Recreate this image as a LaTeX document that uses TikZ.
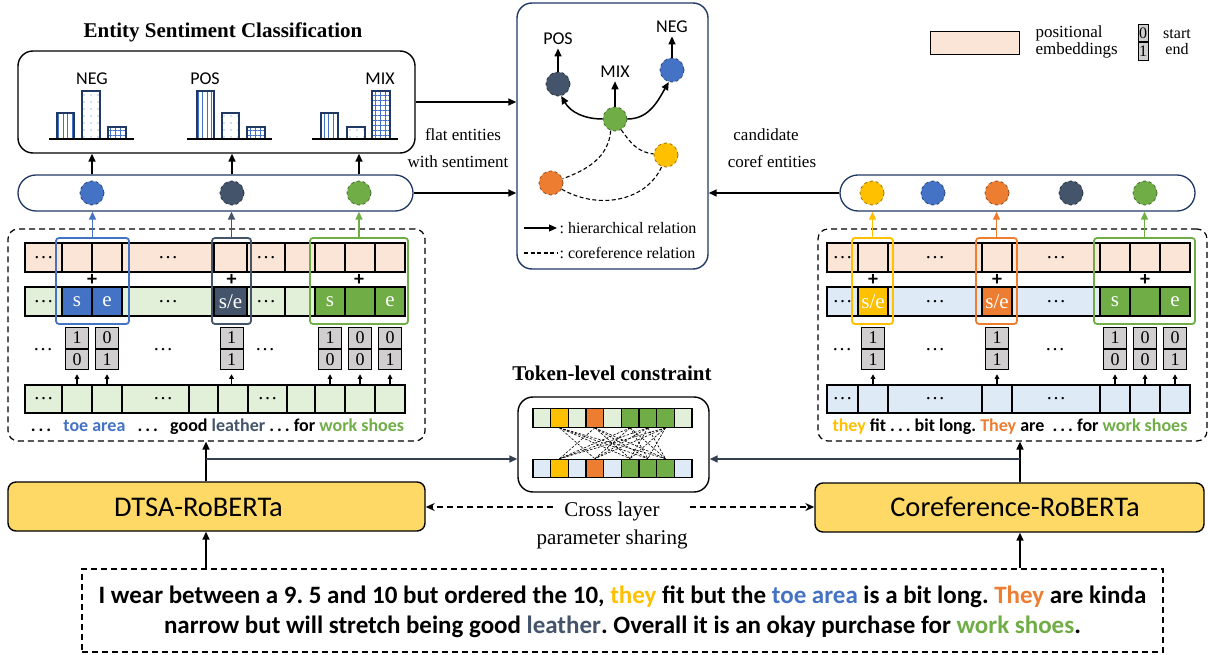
\documentclass[tikz,border=0pt]{standalone}
\usepackage{fontspec}
\setmainfont{Liberation Serif}
\newfontfamily\carlito{Carlito}
\usepackage{tikz}
\usetikzlibrary{arrows.meta,patterns.meta,positioning}
\definecolor{peach}{HTML}{FBE5D6}
\definecolor{lgreen}{HTML}{E2F0D9}
\definecolor{lblue}{HTML}{DEEBF7}
\definecolor{bitgray}{HTML}{D0CECE}
\definecolor{eblue}{HTML}{4472C4}
\definecolor{enavy}{HTML}{44546A}
\definecolor{egreen}{HTML}{70AD47}
\definecolor{eorange}{HTML}{ED7D31}
\definecolor{eyellow}{HTML}{FFC000}
\definecolor{model}{HTML}{FFD966}
\definecolor{frame}{HTML}{203864}
\definecolor{link}{HTML}{333F50}
\tikzset{
  box/.style={draw=black, line width=1.4pt, rounded corners=15pt},
  gbox/.style={draw=frame, line width=1.4pt, rounded corners=15pt},
  capsule/.style={draw=frame, line width=1.3pt, rounded corners=18pt},
  dbox/.style={draw=black, dash pattern=on 6pt off 4pt, line width=1.2pt, rounded corners=10pt},
  sbox/.style={draw=black, dash pattern=on 6pt off 4pt, line width=1.2pt},
  model/.style={draw=black, fill=model, line width=1.4pt, rounded corners=8pt},
  cell/.style={draw=black, line width=1.2pt},
  tcell/.style={draw=black, line width=1.1pt, minimum width=17.67pt, minimum height=18.5pt, inner sep=0pt},
  hl/.style={line width=1.8pt, rounded corners=3pt},
  bit/.style={draw=black, fill=bitgray, line width=1pt, minimum width=23pt, minimum height=20.5pt, inner sep=0pt, font=\fontsize{18}{18}\selectfont},
  bitleg/.style={draw=black, fill=bitgray, line width=1pt, minimum width=10pt, minimum height=17.5pt, inner sep=0pt, font=\fontsize{16}{16}\selectfont},
  ent/.style={circle, fill=#1, draw=#1!60!black, dashed, line width=0.8pt, minimum size=24pt, inner sep=0pt},
  arr/.style={-{Triangle[length=8pt,width=7pt]}, line width=1.5pt},
  tiny/.style={-{Triangle[length=4.5pt,width=4.5pt]}, line width=1.2pt},
  darr/.style={-{Stealth[length=9pt,width=8pt]}, line width=1.4pt, dash pattern=on 6pt off 4pt},
  coref/.style={line width=1.1pt, dash pattern=on 4pt off 2.5pt},
  barline/.style={draw=frame, line width=1.4pt},
  base/.style={draw=black, line width=1.5pt},
  pvl/.style={pattern={Lines[angle=90,distance=4.5pt,line width=0.6pt]}, pattern color=eblue},
  pdot/.style={pattern={Dots[distance=7pt,radius=0.6pt]}, pattern color=eblue},
  pgrid/.style={pattern={Hatch[angle=0,distance=5pt,line width=0.6pt]}, pattern color=eblue},
  title/.style={font=\bfseries\fontsize{21}{21}\selectfont},
  lab/.style={font=\fontsize{17}{17}\selectfont},
  leg/.style={font=\fontsize{16}{16}\selectfont},
  big/.style={font=\fontsize{21}{28}\selectfont},
  sans/.style={font=\carlito\fontsize{18}{18}\selectfont},
  plus/.style={font=\carlito\bfseries\fontsize{20}{20}\selectfont, inner sep=0pt},
  dots/.style={font=\fontsize{20}{20}\selectfont, inner sep=0pt},
  tok/.style={font=\fontsize{21}{21}\selectfont, text=white, inner sep=0pt},
  words/.style={font=\carlito\bfseries\fontsize{18}{18}\selectfont},
  sent/.style={font=\carlito\bfseries\fontsize{25}{30}\selectfont, align=center},
  mtext/.style={font=\carlito\fontsize{28.5}{28.5}\selectfont},
}

\begin{document}
\frenchspacing
\begin{tikzpicture}[x=1pt,y=-1pt]
  \useasboundingbox (0,0) rectangle (1208,655);

  % entity sentiment classification
  \node[title] (clstitle) at (223,32) {Entity Sentiment Classification};
  \node[box, minimum width=397pt, minimum height=102pt] (cls) at (216.5,102) {};
  \foreach \a/\b/\t/\p in {57/74/113/pvl,82/100/91/pdot,108/126/127/pgrid,
      197/214/91/pvl,222/239/113/pdot,247/265/127/pgrid,
      321/338/113/pvl,347/365/127/pdot,372/390/91/pgrid}
  {
    \path[\p] (\a,139) rectangle (\b,\t);
    \draw[barline] (\a,139) rectangle (\b,\t);
  }
  \foreach \a/\b in {49/134,187/272,312/398}
    \draw[base] (\a,139) -- (\b,139);
  \node[sans] (cneg) at (92,79) {NEG};
  \node[sans] (cpos) at (205,79) {POS};
  \node[sans] (cmix) at (380,79) {MIX};

  % entity capsules
  \node[capsule, minimum width=395pt, minimum height=36pt] (lcap) at (215.5,193) {};
  \node[capsule, minimum width=355pt, minimum height=36pt] (rcap) at (1017.5,193) {};
  \foreach \n/\x/\c in {ltoe/92/eblue,lleather/232/enavy,lshoes/359/egreen,
      rthey/872/eyellow,rtoe/933/eblue,rThey/997/eorange,rleather/1071/enavy,rshoes/1145/egreen}
    \node[ent=\c] (\n) at (\x,193) {};
  \foreach \n in {ltoe,lleather,lshoes}
    \draw[arr] (\n |- lcap.north) -- (\n |- cls.south);

  % token blocks
  \node[dbox, minimum width=417pt, minimum height=212pt] (lblk) at (216.5,335) {};
  \node[dbox, minimum width=389pt, minimum height=212pt] (rblk) at (1012.5,335) {};

  \foreach \a/\b in {25/62,62/92,92/122,122/214,214/247,247/285,285/315,315/345,345/375,375/405,
      827/858,858/888,888/982,982/1012,1012/1100,1100/1130,1130/1160,1160/1190}
    \draw[cell, fill=peach] (\a,243) rectangle (\b,272);
  \foreach \a/\b/\c in {25/62/lgreen,62/92/eblue,92/122/eblue,122/214/lgreen,214/247/enavy,
      247/285/lgreen,285/315/lgreen,315/345/egreen,345/375/egreen,375/405/egreen,
      827/858/lblue,858/888/eyellow,888/982/lblue,982/1012/eorange,1012/1100/lblue,
      1100/1130/egreen,1130/1160/egreen,1160/1190/egreen}
    \draw[cell, fill=\c] (\a,287) rectangle (\b,316);
  \foreach \a/\b/\c in {25/62/lgreen,62/92/lgreen,92/122/lgreen,122/189/lgreen,189/218/lgreen,
      218/248/lgreen,248/287/lgreen,287/315/lgreen,315/345/lgreen,345/375/lgreen,375/405/lgreen,
      827/858/lblue,858/888/lblue,888/982/lblue,982/1012/lblue,1012/1100/lblue,
      1100/1130/lblue,1130/1160/lblue,1160/1190/lblue}
    \draw[cell, fill=\c] (\a,385) rectangle (\b,413);

  \foreach \x/\y [count=\i] in {43.5/257.5,168/257.5,266/257.5,43.5/301.5,168/301.5,266/301.5,
      43/350,163/350,265/350,43.5/399,163/399,267.5/399,
      842.5/257.5,935/257.5,1056/257.5,842.5/301.5,935/301.5,1056/301.5,
      842/350,935/350,1055/350,842.5/399,935/399,1056/399}
    \node[dots] (dots\i) at (\x,\y) {…};

  \foreach \n/\x/\t in {ts1/77/s,te1/107/e,tse1/230.5/{s/e},ts2/330/s,te2/390/e,
      tse2/873/{s/e},tse3/997/{s/e},ts3/1115/s,te3/1175/e}
    \node[tok] (\n) at (\x,301.5) {\t};

  \foreach \n/\x in {pl1/92,pl2/231.5,pl3/359,pr1/873,pr2/997,pr3/1145}
    \node[plus] (\n) at (\x,280) {+};

  % highlighted entities
  \node[hl, draw=eblue, minimum width=73pt, minimum height=86pt] (hltoe) at (92.5,281) {};
  \node[hl, draw=enavy, minimum width=39pt, minimum height=86pt] (hlleather) at (231.5,281) {};
  \node[hl, draw=egreen, minimum width=98pt, minimum height=86pt] (hlshoes) at (359,281) {};
  \node[hl, draw=eyellow, minimum width=41pt, minimum height=86pt] (hlthey) at (872.5,281) {};
  \node[hl, draw=eorange, minimum width=41pt, minimum height=86pt] (hlThey) at (996.5,281) {};
  \node[hl, draw=egreen, minimum width=101pt, minimum height=86pt] (hlrshoes) at (1144.5,281) {};
  \draw[arr, eblue] (hltoe.north) -- (hltoe.north |- lcap.south);
  \draw[arr, enavy] (hlleather.north) -- (hlleather.north |- lcap.south);
  \draw[arr, egreen] (hlshoes.north) -- (hlshoes.north |- lcap.south);
  \draw[arr, eyellow] (hlthey.north) -- (hlthey.north |- rcap.south);
  \draw[arr, eorange] (hlThey.north) -- (hlThey.north |- rcap.south);
  \draw[arr, egreen] (hlrshoes.north) -- (hlrshoes.north |- rcap.south);

  % start / end bits
  \foreach \n/\x/\u/\v in {la/77/1/0,lb/107/0/1,lc/231.5/1/1,ld/330/1/0,le/360/0/0,lf/390/0/1,
      ra/873/1/1,rb/997/1/1,rc/1115/1/0,rd/1145/0/0,re/1175/0/1}
  {
    \node[bit] (\n1) at (\x,338) {\u};
    \node[bit, below=0pt of \n1] (\n2) {\v};
    \draw[tiny] ([yshift=-14pt]\n2.south) -- ([yshift=-4pt]\n2.south);
  }

  \node[words] (ltext) at (217.5,427) {.\,.\,.\ \ \ \textcolor{eblue}{toe area}\ \ \ .\,.\,.\ \ \ good \textcolor{enavy}{leather} .\,.\,. for \textcolor{egreen}{work shoes}};
  \node[words] (rtext) at (1010,427) {\textcolor{eyellow}{they} fit .\,.\,. bit long. \textcolor{eorange}{They} are\ \ .\,.\,. for \textcolor{egreen}{work shoes}};

  % entity graph
  \node[gbox, minimum width=191pt, minimum height=266pt] (graph) at (612.5,136) {};
  \node[ent=enavy] (gpos) at (558,84) {};
  \node[ent=eblue] (gneg) at (672,70) {};
  \node[ent=egreen] (gmix) at (615,119) {};
  \node[ent=eyellow] (gyel) at (666,155) {};
  \node[ent=eorange] (gorg) at (551,183) {};
  \node[sans] (tpos) at (558,39) {POS};
  \node[sans] (tneg) at (672,27) {NEG};
  \node[sans] (tmix) at (615,72) {MIX};
  \draw[arr] (gpos.north) -- (tpos.south);
  \draw[arr] (gneg.north) -- (tneg.south);
  \draw[arr] (gmix.north) -- (tmix.south);
  \draw[arr] (gmix.west) to[out=180,in=-60] (gpos.-75);
  \draw[arr] (gmix.east) to[out=0,in=-120] (gneg.-105);
  \draw[coref] (gmix.-110) to[out=-95,in=20] (gorg.20);
  \draw[coref] (gmix.-60) to[out=-55,in=175] (gyel.175);
  \draw[coref] (gorg.-30) to[out=-30,in=-115] (gyel.-110);
  \coordinate (lg1) at (524,228);
  \coordinate (lg2) at (524,253);
  \draw[arr, line width=1.2pt] (lg1) -- ++(33,0) node[leg, anchor=west, inner sep=2pt] (lghier) {: hierarchical relation};
  \draw[coref] (lg2) -- ++(33,0) node[leg, anchor=west, inner sep=2pt] (lgcoref) {: coreference relation};

  \draw[arr] (cls.east) -- (cls.east -| graph.west);
  \draw[arr] (lcap.east) -- (lcap.east -| graph.west);
  \draw[arr] (rcap.west) -- (rcap.west -| graph.east);
  \node[lab] (flat1) at (463,135) {flat entities};
  \node[lab] (flat2) at (458,162) {with sentiment};
  \node[lab] (cand1) at (766,135) {candidate};
  \node[lab] (cand2) at (772,162) {coref entities};

  % legend
  \node[draw=black, fill=peach, line width=1pt, minimum width=89pt, minimum height=23pt] (legpe) at (974.5,43.5) {};
  \node[lab, align=left, anchor=west] (legpt) at (1032,42) {positional\\embeddings};
  \node[bitleg] (leg0) at (1143,33) {0};
  \node[bitleg, below=0pt of leg0] (leg1) {1};
  \node[leg, align=center] (legse) at (1177,42) {start\\end};

  % token-level constraint
  \node[title] (toktitle) at (612,373) {Token-level constraint};
  \node[box, minimum width=191pt, minimum height=95pt] (tok) at (613.5,444.5) {};
  \foreach \c [count=\i] in {lgreen,eyellow,lgreen,eorange,lgreen,egreen,egreen,egreen,lgreen}
    \node[tcell, fill=\c] (t\i) at ({533+17.67*(\i-0.5)},418) {};
  \foreach \c [count=\i] in {lblue,eyellow,lblue,eorange,lblue,egreen,egreen,egreen,lblue}
    \node[tcell, fill=\c] (b\i) at ({533+17.67*(\i-0.5)},468.5) {};
  \foreach \i in {2,4,6,7,8}
    \foreach \j in {2,4,6,7,8}
      {\ifnum\i=\j\else\draw[dash pattern=on 2.5pt off 1.5pt, line width=0.6pt] (t\i.south) -- (b\j.north);\fi}

  % models
  \node[model, minimum width=417pt, minimum height=49pt] (dtsa) at (216.5,506.5) {};
  \node[mtext] (dtsatxt) at (198.5,507) {DTSA-RoBERTa};
  \node[model, minimum width=389pt, minimum height=49pt] (coref) at (1009.5,507.5) {};
  \node[mtext] (coreftxt) at (1015,507) {Coreference-RoBERTa};
  \node[big, align=center] (share) at (612,525) {Cross layer\\parameter sharing};
  \coordinate (sl) at (553,507);
  \coordinate (sr) at (690,507);
  \draw[darr] (sl) -- (sl -| dtsa.east);
  \draw[darr] (sr) -- (sr -| coref.west);

  % input sentence
  \node[sbox, minimum width=1081pt, minimum height=83pt] (sent) at (622.5,610.5) {};
  \node[sent] (senttxt) at (622.5,612) {I wear between a 9. 5 and 10 but ordered the 10, \textcolor{eyellow}{they} fit but the \textcolor{eblue}{toe area} is a bit long. \textcolor{eorange}{They} are kinda\\narrow but will stretch being good \textcolor{enavy}{leather}. Overall it is an okay purchase for \textcolor{egreen}{work shoes}.};

  \coordinate (lup) at (206,459);
  \coordinate (rup) at (1020,459);
  \draw[arr] (lup |- sent.north) -- (lup |- dtsa.south);
  \draw[arr] (lup |- dtsa.north) -- (lup |- lblk.south);
  \draw[arr, link] (lup) -- (lup -| tok.west);
  \draw[arr] (rup |- sent.north) -- (rup |- coref.south);
  \draw[arr] (rup |- coref.north) -- (rup |- rblk.south);
  \draw[arr, link] (rup) -- (rup -| tok.east);
\end{tikzpicture}
\end{document}
